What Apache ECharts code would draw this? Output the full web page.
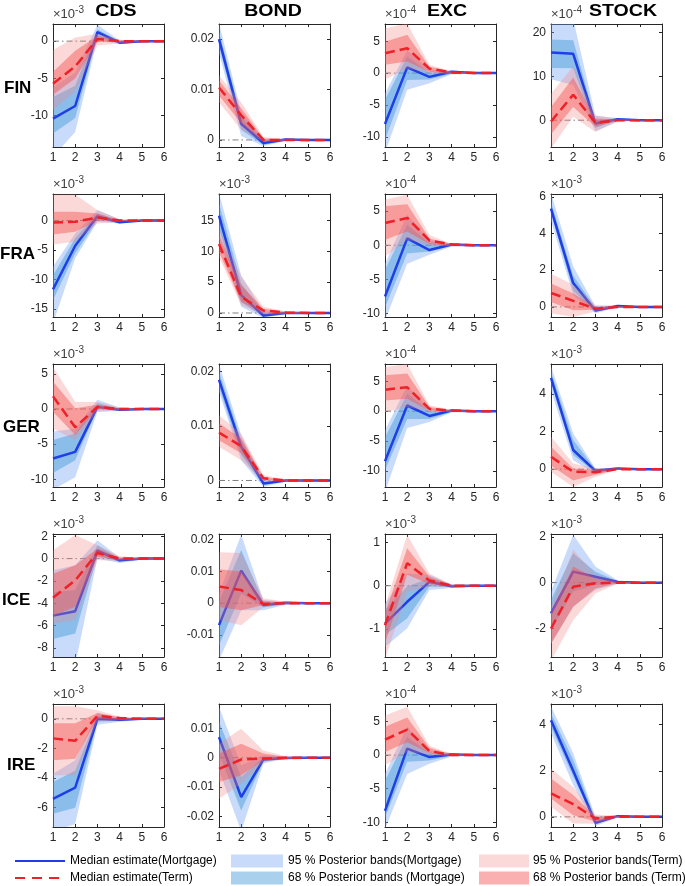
<!DOCTYPE html>
<html><head><meta charset="utf-8">
<script src="https://cdn.jsdelivr.net/npm/echarts@6/dist/echarts.min.js"></script>
<style>html,body{margin:0;padding:0;background:#fff}#chart{width:685px;height:886px}</style>
</head><body><div id="chart"></div>
<script>
// ---------------- data ----------------
const ROWS = ['FIN', 'FRA', 'GER', 'ICE', 'IRE'];
const COLS = ['CDS', 'BOND', 'EXC', 'STOCK'];
const HORIZON = [1, 2, 3, 4, 5, 6];
const NAME_MORT = 'Median estimate(Mortgage)';
const NAME_TERM = 'Median estimate(Term)';
const NAME_M95 = '95 % Posterior bands(Mortgage)';
const NAME_M68 = '68 % Posterior bands (Mortgage)';
const NAME_T95 = '95 % Posterior bands(Term)';
const NAME_T68 = '68 % Posterior bands (Term)';

// values are in the units shown on each panel's axis (exp = the ×10^exp factor, null = none)
const FIN_CDS = { exp: -3, ticks: [-10, -5, 0], range: [-14.2, 2.3],
  mort: [-10.4, -8.7, 1.2, -0.2, 0, 0], term: [-5.7, -3.4, 0.3, 0, 0, 0],
  mort95: [[-15.5, -12.2, 0.3, -0.4, -0.1, -0.05], [-6.2, -4.2, 2.2, 0.1, 0.1, 0.05]],
  mort68: [[-12.4, -10.3, 0.6, -0.3, -0.05, -0.02], [-7.5, -6.0, 1.6, -0.05, 0.05, 0.02]],
  term95: [[-9.2, -6.8, -0.6, -0.3, -0.1, -0.05], [-1.2, 0.5, 1.0, 0.2, 0.1, 0.05]],
  term68: [[-7.2, -5.0, -0.1, -0.15, -0.05, -0.02], [-4.1, -1.3, 0.7, 0.1, 0.05, 0.02]] };
const FIN_BOND = { exp: null, ticks: [0, 0.01, 0.02], range: [-0.0014, 0.023],
  mort: [0.0200, 0.0032, -0.0006, 0.0001, 0, 0], term: [0.0104, 0.0049, 0.0000, 0, 0, 0],
  mort95: [[0.0172, 0.0008, -0.0012, -0.0002, -0.0001, 0], [0.0232, 0.0055, 0.0002, 0.0003, 0.0001, 0]],
  mort68: [[0.0185, 0.0020, -0.0010, -0.0001, 0, 0], [0.0215, 0.0045, -0.0001, 0.0002, 0.0001, 0]],
  term95: [[0.0075, 0.0020, -0.0004, -0.0002, -0.0001, 0], [0.0128, 0.0075, 0.0006, 0.0002, 0.0001, 0]],
  term68: [[0.0088, 0.0033, -0.0002, -0.0001, 0, 0], [0.0118, 0.0063, 0.0003, 0.0001, 0, 0]] };
const FIN_EXC = { exp: -4, ticks: [-10, -5, 0, 5], range: [-11.6, 7.7],
  mort: [-8.0, 0.9, -0.6, 0.2, 0, 0], term: [3.1, 3.9, 0.7, 0.1, 0, 0],
  mort95: [[-12.5, -2.6, -1.6, -0.2, -0.1, -0.05], [-3.2, 3.6, 0.5, 0.4, 0.1, 0.05]],
  mort68: [[-10.5, -1.1, -1.0, -0.1, -0.05, -0.02], [-4.2, 2.6, 0.05, 0.3, 0.05, 0.02]],
  term95: [[-1.0, 0.7, 0, -0.2, -0.1, -0.05], [7.0, 7.8, 1.3, 0.3, 0.1, 0.05]],
  term68: [[1.3, 1.8, 0.2, -0.1, -0.05, -0.02], [4.9, 6.0, 1.0, 0.2, 0.05, 0.02]] };
const FIN_STOCK = { exp: -4, ticks: [0, 10, 20], range: [-6.1, 21.9],
  mort: [15.4, 15.1, -0.75, 0.2, 0, 0], term: [-0.3, 5.8, -0.6, 0, 0, 0],
  mort95: [[9.3, 8.0, -2.5, -0.3, -0.1, -0.05], [24, 23, 1.0, 0.5, 0.1, 0.05]],
  mort68: [[11.9, 11.8, -1.7, -0.1, -0.05, -0.02], [18.4, 18.2, 0, 0.3, 0.05, 0.02]],
  term95: [[-6.5, 0.8, -2.7, -0.3, -0.1, -0.05], [6.0, 12.3, 1.1, 0.3, 0.1, 0.05]],
  term68: [[-3.2, 3.0, -1.5, -0.15, -0.05, -0.02], [3.0, 9.7, 0.4, 0.15, 0.05, 0.02]] };

const FRA_CDS = { exp: -3, ticks: [-15, -10, -5, 0], range: [-16.4, 4.5],
  mort: [-11.7, -4.3, 0.7, -0.3, 0, 0], term: [-0.35, -0.2, 0.5, 0, 0, 0],
  mort95: [[-17.5, -6.4, -0.2, -0.5, -0.1, -0.05], [-7.8, -2.2, 1.8, 0.2, 0.1, 0.05]],
  mort68: [[-13.5, -5.6, 0.1, -0.4, -0.05, -0.02], [-9.3, -3.0, 1.25, -0.1, 0.05, 0.02]],
  term95: [[-4.1, -3.6, -0.5, -0.2, -0.1, -0.05], [4.4, 4.4, 1.8, 0.2, 0.1, 0.05]],
  term68: [[-2.4, -1.9, 0, -0.1, -0.05, -0.02], [1.5, 1.5, 1.2, 0.1, 0.05, 0.02]] };
const FRA_BOND = { exp: -3, ticks: [0, 5, 10, 15], range: [-0.65, 19.3],
  mort: [15.8, 2.9, -0.4, 0, 0, 0], term: [11.2, 2.6, 0.4, 0.1, 0, 0],
  mort95: [[12.1, 1.0, -0.8, -0.2, -0.1, -0.05], [19.5, 6.1, 0.2, 0.2, 0.1, 0.05]],
  mort68: [[13.75, 1.8, -0.6, -0.1, -0.05, -0.02], [17.8, 4.8, 0, 0.1, 0.05, 0.02]],
  term95: [[9.1, 1.3, -0.3, -0.2, -0.1, -0.05], [13.75, 5.9, 1.0, 0.3, 0.1, 0.05]],
  term68: [[9.9, 1.8, 0.1, -0.1, -0.05, -0.02], [12.6, 4.5, 0.7, 0.2, 0.05, 0.02]] };
const FRA_EXC = { exp: -4, ticks: [-10, -5, 0, 5], range: [-10.5, 7.5],
  mort: [-7.5, 1.0, -0.7, 0.1, 0, 0], term: [3.25, 4.0, 0.7, 0.1, 0, 0],
  mort95: [[-11, -2.7, -1.4, -0.2, -0.1, -0.05], [-2.7, 4.5, 0.7, 0.3, 0.1, 0.05]],
  mort68: [[-9.1, -1.2, -0.9, -0.1, -0.05, -0.02], [-3.6, 3.0, 0.3, 0.2, 0.05, 0.02]],
  term95: [[-1.7, 0.8, 0, -0.2, -0.1, -0.05], [6.7, 7.4, 1.5, 0.2, 0.1, 0.05]],
  term68: [[0.8, 2.0, 0.2, -0.1, -0.05, -0.02], [5.7, 6.0, 1.0, 0.2, 0.05, 0.02]] };
const FRA_STOCK = { exp: -3, ticks: [0, 2, 4, 6], range: [-0.55, 6.15],
  mort: [5.35, 1.3, -0.2, 0.05, 0, 0], term: [0.76, 0.33, -0.1, 0, 0, 0],
  mort95: [[4.7, 0.64, -0.35, -0.03, -0.02, -0.01], [6.2, 2.2, 0.05, 0.08, 0.02, 0.01]],
  mort68: [[5.1, 0.9, -0.28, 0, -0.01, 0], [5.7, 1.7, -0.05, 0.06, 0.01, 0]],
  term95: [[-0.35, -0.55, -0.25, -0.05, -0.02, -0.01], [1.8, 1.2, 0.1, 0.05, 0.02, 0.01]],
  term68: [[0.27, -0.18, -0.15, -0.03, -0.01, 0], [1.27, 0.73, 0.0, 0.03, 0.01, 0]] };

const GER_CDS = { exp: -3, ticks: [-10, -5, 0, 5], range: [-11.1, 6.4],
  mort: [-7.05, -6.1, 0.3, -0.1, 0, 0], term: [1.8, -2.6, 0.3, 0, 0, 0],
  mort95: [[-11.5, -9.7, -0.4, -0.3, -0.1, -0.05], [-3.2, -2.8, 1.3, 0.2, 0.1, 0.05]],
  mort68: [[-9.1, -7.3, 0, -0.2, -0.05, -0.02], [-4.4, -3.5, 0.8, 0.05, 0.05, 0.02]],
  term95: [[-2.8, -4.4, -0.4, -0.2, -0.1, -0.05], [6.0, 1.0, 1.0, 0.2, 0.1, 0.05]],
  term68: [[-0.4, -3.7, 0, -0.1, -0.05, -0.02], [3.9, 0.1, 0.6, 0.1, 0.05, 0.02]] };
const GER_BOND = { exp: null, ticks: [0, 0.01, 0.02], range: [-0.0012, 0.0214],
  mort: [0.0185, 0.0062, -0.00055, 0, 0, 0], term: [0.0088, 0.0063, 0.0004, 0, 0, 0],
  mort95: [[0.0163, 0.0037, -0.0012, -0.0002, -0.0001, 0], [0.0214, 0.0083, 0.0002, 0.0002, 0.0001, 0]],
  mort68: [[0.0172, 0.0047, -0.0009, -0.0001, 0, 0], [0.0200, 0.0074, -0.0002, 0.0001, 0, 0]],
  term95: [[0.0062, 0.0037, -0.0002, -0.0002, -0.0001, 0], [0.0120, 0.0086, 0.0010, 0.0002, 0.0001, 0]],
  term68: [[0.0074, 0.0050, 0.0001, -0.0001, 0, 0], [0.0105, 0.0077, 0.0007, 0.0001, 0, 0]] };
const GER_EXC = { exp: -4, ticks: [-10, -5, 0, 5], range: [-12.7, 7.9],
  mort: [-8.4, 0.95, -0.8, 0.1, 0, 0], term: [3.6, 4.0, 0.4, 0.1, 0, 0],
  mort95: [[-13.5, -2.8, -1.8, -0.2, -0.1, -0.05], [-3.2, 4.3, 0.4, 0.3, 0.1, 0.05]],
  mort68: [[-9.9, -1.3, -1.3, -0.1, -0.05, -0.02], [-4.4, 2.9, 0, 0.2, 0.05, 0.02]],
  term95: [[-0.2, 0.7, 0, -0.2, -0.1, -0.05], [7.4, 7.9, 1.0, 0.2, 0.1, 0.05]],
  term68: [[1.8, 2.1, 0.1, -0.1, -0.05, -0.02], [6.0, 6.3, 0.7, 0.15, 0.05, 0.02]] };
const GER_STOCK = { exp: -3, ticks: [0, 2, 4], range: [-0.95, 5.6],
  mort: [4.86, 1.02, -0.09, 0.04, 0, 0], term: [0.66, -0.14, -0.16, 0, 0, 0],
  mort95: [[4.2, 0.48, -0.25, -0.03, -0.02, -0.01], [5.5, 1.9, 0.05, 0.08, 0.02, 0.01]],
  mort68: [[4.6, 0.75, -0.18, 0, -0.01, 0], [5.2, 1.55, -0.02, 0.06, 0.01, 0]],
  term95: [[-0.14, -0.95, -0.4, -0.05, -0.02, -0.01], [1.73, 0.3, 0.05, 0.05, 0.02, 0.01]],
  term68: [[0.2, -0.6, -0.3, -0.03, -0.01, 0], [1.2, 0.04, -0.05, 0.03, 0.01, 0]] };

const ICE_CDS = { exp: -3, ticks: [-8, -6, -4, -2, 0, 2], range: [-8.8, 2.2],
  mort: [-5.1, -4.7, 0.7, -0.15, 0, 0], term: [-3.5, -1.95, 0.5, 0, 0, 0],
  mort95: [[-9.5, -9.5, 0, -0.4, -0.1, -0.05], [-1.05, -0.6, 1.65, 0.1, 0.1, 0.05]],
  mort68: [[-7.2, -6.7, 0.3, -0.3, -0.05, -0.02], [-3.0, -2.8, 1.2, 0, 0.05, 0.02]],
  term95: [[-5.8, -5.5, -0.15, -0.2, -0.1, -0.05], [0.75, 2.1, 1.2, 0.2, 0.1, 0.05]],
  term68: [[-5.1, -4.3, 0.15, -0.1, -0.05, -0.02], [-1.35, -0.6, 0.9, 0.1, 0.05, 0.02]] };
const ICE_BOND = { exp: null, ticks: [-0.01, 0, 0.01, 0.02], range: [-0.0169, 0.0217],
  mort: [-0.0069, 0.0102, -0.0006, 0.0001, 0, 0], term: [0.0052, 0.0041, -0.0003, 0, 0, 0],
  mort95: [[-0.018, -0.0022, -0.0022, -0.0005, -0.0002, 0], [0.003, 0.0215, 0.001, 0.0005, 0.0002, 0]],
  mort68: [[-0.0133, 0.003, -0.0014, -0.0003, -0.0001, 0], [0.0004, 0.0167, 0.0002, 0.0003, 0.0001, 0]],
  term95: [[-0.0054, -0.0069, -0.0012, -0.0004, -0.0002, 0], [0.016, 0.0157, 0.0015, 0.0004, 0.0002, 0]],
  term68: [[-0.0012, -0.0022, -0.0006, -0.0002, -0.0001, 0], [0.0106, 0.0099, 0.0007, 0.0002, 0.0001, 0]] };
const ICE_EXC = { exp: -3, ticks: [-1, 0, 1], range: [-1.64, 1.19],
  mort: [-0.87, -0.37, 0.09, -0.01, 0, 0], term: [-0.91, 0.52, 0.12, 0, 0, 0],
  mort95: [[-1.41, -0.98, -0.1, -0.05, -0.02, -0.01], [-0.41, 0.28, 0.25, 0.03, 0.02, 0.01]],
  mort68: [[-1.14, -0.75, -0.02, -0.03, -0.01, 0], [-0.56, -0.02, 0.17, 0.02, 0.01, 0]],
  term95: [[-1.7, -0.14, -0.02, -0.03, -0.02, -0.01], [-0.48, 1.17, 0.28, 0.03, 0.02, 0.01]],
  term68: [[-1.33, 0.25, 0.04, -0.02, -0.01, 0], [-0.64, 0.86, 0.21, 0.02, 0.01, 0]] };
const ICE_STOCK = { exp: -3, ticks: [-2, 0, 2], range: [-3.24, 2.12],
  mort: [-1.34, 0.48, 0.26, 0.03, 0, 0], term: [-2.0, -0.18, -0.03, 0, 0, 0],
  mort95: [[-2.66, -1.05, -0.32, -0.05, -0.02, -0.01], [-0.39, 2.09, 0.7, 0.1, 0.02, 0.01]],
  mort68: [[-2.07, -0.39, -0.1, -0.03, -0.01, 0], [-0.76, 1.28, 0.48, 0.07, 0.01, 0]],
  term95: [[-3.4, -1.64, -0.47, -0.05, -0.02, -0.01], [-1.05, 1.43, 0.34, 0.05, 0.02, 0.01]],
  term68: [[-2.66, -1.05, -0.25, -0.03, -0.01, 0], [-1.34, 0.7, 0.19, 0.03, 0.01, 0]] };

const IRE_CDS = { exp: -3, ticks: [-6, -4, -2, 0], range: [-7.3, 1.0],
  mort: [-5.4, -4.65, 0, -0.07, 0, 0], term: [-1.32, -1.48, 0.2, 0.05, 0, 0],
  mort95: [[-7.6, -7.1, -0.4, -0.2, -0.05, -0.02], [-3.7, -2.8, 0.39, 0.05, 0.05, 0.02]],
  mort68: [[-6.4, -6.0, -0.18, -0.15, -0.02, -0.01], [-4.27, -3.5, 0.2, 0, 0.02, 0.01]],
  term95: [[-3.8, -3.8, -0.18, -0.1, -0.05, -0.02], [0.84, 0.84, 0.57, 0.15, 0.05, 0.02]],
  term68: [[-2.8, -2.7, 0, -0.05, -0.02, -0.01], [-0.3, -0.3, 0.39, 0.1, 0.02, 0.01]] };
const IRE_BOND = { exp: null, ticks: [-0.02, -0.01, 0, 0.01], range: [-0.0236, 0.0183],
  mort: [0.007, -0.0134, -0.0006, -0.0001, 0, 0], term: [-0.0038, -0.0006, -0.0003, 0, 0, 0],
  mort95: [[-0.0043, -0.025, -0.002, -0.0003, -0.0001, 0], [0.0174, -0.0026, 0.0008, 0.0003, 0.0001, 0]],
  mort68: [[0.0014, -0.018, -0.0013, -0.0002, -0.0001, 0], [0.0123, -0.0066, 0.0002, 0.0002, 0.0001, 0]],
  term95: [[-0.014, -0.0089, -0.0015, -0.0005, -0.0002, 0], [0.0048, 0.0099, 0.0025, 0.0005, 0.0002, 0]],
  term68: [[-0.0083, -0.006, -0.0009, -0.0003, -0.0001, 0], [0.0014, 0.0048, 0.0014, 0.0003, 0.0001, 0]] };
const IRE_EXC = { exp: -4, ticks: [-10, -5, 0, 5], range: [-10.7, 7.6],
  mort: [-8.3, 0.95, -0.3, 0.1, 0, 0], term: [2.3, 3.8, 0.6, 0, 0, 0],
  mort95: [[-11, -2.8, -1.3, -0.2, -0.1, -0.05], [-2.8, 4.2, 0.7, 0.3, 0.1, 0.05]],
  mort68: [[-9.3, -1.0, -0.8, -0.1, -0.05, -0.02], [-3.8, 2.7, 0.3, 0.2, 0.05, 0.02]],
  term95: [[-1.5, 0.45, 0.1, -0.2, -0.1, -0.05], [5.9, 7.2, 1.4, 0.2, 0.1, 0.05]],
  term68: [[0.45, 1.9, 0.3, -0.1, -0.05, -0.02], [4.2, 5.6, 1.1, 0.1, 0.05, 0.02]] };
const IRE_STOCK = { exp: -3, ticks: [0, 2, 4], range: [-0.44, 4.9],
  mort: [4.19, 2.0, -0.26, 0.03, 0, 0], term: [1.02, 0.55, -0.07, 0, 0, 0],
  mort95: [[3.64, 1.38, -0.4, -0.03, -0.02, -0.01], [4.8, 2.76, 0, 0.08, 0.02, 0.01]],
  mort68: [[3.9, 1.75, -0.33, 0, -0.01, 0], [4.5, 2.47, -0.1, 0.06, 0.01, 0]],
  term95: [[0.44, -0.29, -0.3, -0.05, -0.02, -0.01], [2.1, 1.3, 0.1, 0.05, 0.02, 0.01]],
  term68: [[0.8, 0.07, -0.2, -0.03, -0.01, 0], [1.67, 0.95, 0, 0.03, 0.01, 0]] };

const PANELS = [
  [FIN_CDS, FIN_BOND, FIN_EXC, FIN_STOCK],
  [FRA_CDS, FRA_BOND, FRA_EXC, FRA_STOCK],
  [GER_CDS, GER_BOND, GER_EXC, GER_STOCK],
  [ICE_CDS, ICE_BOND, ICE_EXC, ICE_STOCK],
  [IRE_CDS, IRE_BOND, IRE_EXC, IRE_STOCK]
];

// ---------------- layout & style ----------------
const GX0 = 53, GXSTEP = 166, GY0 = 24, GYSTEP = 170, GW = 111, GH = 123;
const AX = '#262626';
const BLUE = '#1f3ee8', RED = '#ef2027', ZERO = '#7f7f7f';
const C_M95 = 'rgba(120,165,245,0.40)', C_M68 = 'rgba(65,154,215,0.45)';
const C_T95 = 'rgba(245,130,130,0.30)', C_T68 = 'rgba(243,79,79,0.45)';
const FONT = 'Liberation Sans, Arial, Helvetica, sans-serif';
const TITLE_X = [116, 273, 447, 623];
const ROW_LABEL_X = [4, 0, 3, 2, 7];
const ROW_LABEL_Y = [88, 254, 427, 600, 765];

const grid = [], xAxis = [], yAxis = [], series = [];

function bandSeries(name, color, band, g, z) {
  const lo = band[0], hi = band[1];
  return {
    type: 'custom', name: name, xAxisIndex: 2 * g, yAxisIndex: 2 * g, z: z, clip: true, silent: true,
    itemStyle: { color: color },
    data: HORIZON.map((x, i) => [x, lo[i], hi[i]]),
    encode: { x: 0, y: [1, 2] },
    renderItem: function (params, api) {
      if (params.dataIndex !== 0) return null;
      const pts = [];
      for (let i = 0; i < HORIZON.length; i++) pts.push(api.coord([HORIZON[i], hi[i]]));
      for (let i = HORIZON.length - 1; i >= 0; i--) pts.push(api.coord([HORIZON[i], lo[i]]));
      return { type: 'polygon', shape: { points: pts }, style: { fill: color } };
    }
  };
}

ROWS.forEach((rn, r) => {
  COLS.forEach((cn, c) => {
    const p = PANELS[r][c];
    const g = r * 4 + c;
    grid.push({ left: GX0 + c * GXSTEP, top: GY0 + r * GYSTEP, width: GW, height: GH,
      containLabel: false, outerBoundsMode: 'none' });
    const xCommon = { type: 'value', gridIndex: g, min: 1, max: 6, interval: 1,
      axisLine: { show: true, onZero: false, lineStyle: { color: AX, width: 1 } },
      axisTick: { show: true, inside: true, length: 3, lineStyle: { color: AX } },
      splitLine: { show: false } };
    xAxis.push(Object.assign({}, xCommon, { position: 'bottom',
      axisLabel: { show: true, fontSize: 12, color: AX, fontFamily: FONT, margin: 5 } }));
    xAxis.push(Object.assign({}, xCommon, { position: 'top', axisLabel: { show: false } }));
    const yCommon = { type: 'value', gridIndex: g, min: p.range[0], max: p.range[1],
      axisLine: { show: true, onZero: false, lineStyle: { color: AX, width: 1 } },
      axisTick: { show: true, inside: true, length: 3, lineStyle: { color: AX }, customValues: p.ticks },
      splitLine: { show: false } };
    const yLeft = Object.assign({}, yCommon, { position: 'left',
      axisLabel: { show: true, customValues: p.ticks, fontSize: 12, color: AX, fontFamily: FONT, margin: 5,
        formatter: v => String(v) } });
    if (p.exp !== null) {
      yLeft.name = '{a|×10}{b|' + p.exp + '}';
      yLeft.nameLocation = 'end';
      yLeft.nameGap = 3;
      yLeft.nameMoveOverlap = false;
      yLeft.nameTextStyle = { align: 'left', verticalAlign: 'bottom', color: '#404040', fontSize: 13,
        fontFamily: FONT,
        rich: { a: { fontSize: 13, lineHeight: 16, color: '#404040', fontFamily: FONT, verticalAlign: 'bottom' },
                b: { fontSize: 10, lineHeight: 10, color: '#404040', fontFamily: FONT, verticalAlign: 'top' } } };
    }
    yAxis.push(yLeft);
    yAxis.push(Object.assign({}, yCommon, { position: 'right', axisLabel: { show: false } }));

    series.push({ type: 'line', xAxisIndex: 2 * g, yAxisIndex: 2 * g, z: 1, silent: true, symbol: 'none',
      data: HORIZON.map(x => [x, 0]),
      lineStyle: { color: ZERO, width: 1, type: [6, 3, 1.5, 3] } });
    series.push(bandSeries(NAME_M95, C_M95, p.mort95, g, 2));
    series.push(bandSeries(NAME_M68, C_M68, p.mort68, g, 3));
    series.push({ type: 'line', name: NAME_MORT, xAxisIndex: 2 * g, yAxisIndex: 2 * g, z: 4, silent: true,
      symbol: 'none', clip: true, data: HORIZON.map((x, i) => [x, p.mort[i]]),
      itemStyle: { color: BLUE }, lineStyle: { color: BLUE, width: 2.5 } });
    series.push(bandSeries(NAME_T95, C_T95, p.term95, g, 5));
    series.push(bandSeries(NAME_T68, C_T68, p.term68, g, 6));
    series.push({ type: 'line', name: NAME_TERM, xAxisIndex: 2 * g, yAxisIndex: 2 * g, z: 7, silent: true,
      symbol: 'none', clip: true, data: HORIZON.map((x, i) => [x, p.term[i]]),
      itemStyle: { color: RED }, lineStyle: { color: RED, width: 2.5, type: [10, 5] } });
  });
});

const graphic = [];
COLS.forEach((cn, c) => graphic.push({ type: 'text', x: TITLE_X[c], y: 11, scaleX: 1.15,
  style: { text: cn, x: 0, y: 0, fontSize: 17, fontWeight: 'bold', fontFamily: FONT, fill: '#000',
    textAlign: 'center', textVerticalAlign: 'middle' } }));
ROWS.forEach((rn, r) => graphic.push({ type: 'text', x: ROW_LABEL_X[r], y: ROW_LABEL_Y[r],
  style: { text: rn, fontSize: 17, fontWeight: 'bold', fontFamily: FONT, fill: '#000',
    textAlign: 'left', textVerticalAlign: 'middle' } }));

// legend (3 columns x 2 rows), drawn as graphic elements
const LEG_Y = [861, 878];
function legText(txt, x, y) {
  return { type: 'text', x: x, y: y,
    style: { text: txt, x: 0, y: 0, fontSize: 12, fontFamily: FONT, fill: '#000',
      textAlign: 'left', textVerticalAlign: 'middle' } };
}
graphic.push({ type: 'line', shape: { x1: 15, y1: LEG_Y[0], x2: 65, y2: LEG_Y[0] },
  style: { stroke: BLUE, lineWidth: 2 } });
graphic.push({ type: 'line', shape: { x1: 15, y1: LEG_Y[1], x2: 65, y2: LEG_Y[1] },
  style: { stroke: RED, lineWidth: 2, lineDash: [10, 7] } });
graphic.push(legText(NAME_MORT, 70, LEG_Y[0]));
graphic.push(legText(NAME_TERM, 70, LEG_Y[1]));
graphic.push({ type: 'rect', shape: { x: 231, y: LEG_Y[0] - 6.5, width: 52, height: 13 }, style: { fill: C_M95 } });
graphic.push({ type: 'rect', shape: { x: 231, y: LEG_Y[1] - 6.5, width: 52, height: 13 }, style: { fill: C_M68 } });
graphic.push(legText(NAME_M95, 288, LEG_Y[0]));
graphic.push(legText(NAME_M68, 288, LEG_Y[1]));
graphic.push({ type: 'rect', shape: { x: 479, y: LEG_Y[0] - 6.5, width: 50, height: 13 }, style: { fill: C_T95 } });
graphic.push({ type: 'rect', shape: { x: 479, y: LEG_Y[1] - 6.5, width: 50, height: 13 }, style: { fill: C_T68 } });
graphic.push(legText(NAME_T95, 533, LEG_Y[0]));
graphic.push(legText(NAME_T68, 533, LEG_Y[1]));

const chart = echarts.init(document.getElementById('chart'), null, { renderer: 'canvas' });
chart.setOption({ animation: false, backgroundColor: '#fff', grid, xAxis, yAxis, series, graphic });
</script></body></html>
